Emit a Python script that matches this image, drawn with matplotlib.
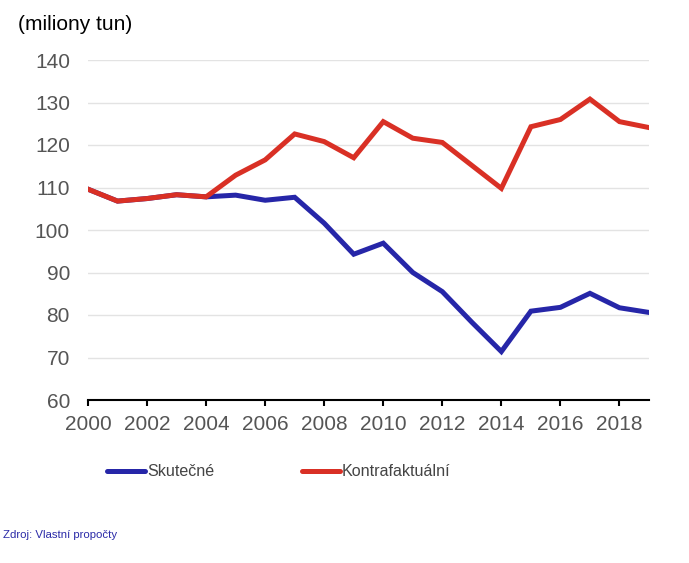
import numpy as np
import matplotlib.pyplot as plt

plt.rcParams['font.family'] = ['Liberation Sans', 'DejaVu Sans']

# data
years = list(range(2000, 2020))
skutecne = [109.6, 106.8, 107.4, 108.3, 107.8, 108.2, 107.0, 107.7, 101.6, 94.3,
            96.9, 90.0, 85.5, 78.3, 71.4, 80.9, 81.8, 85.1, 81.7, 80.6]
kontrafaktualni = [109.6, 106.8, 107.4, 108.3, 107.8, 112.9, 116.5, 122.6, 120.8, 117.0,
                   125.5, 121.6, 120.6, 115.2, 109.8, 124.3, 126.0, 130.8, 125.5, 124.1]
series_names = ["Skutečné", "Kontrafaktuální"]
y_ticks = [60, 70, 80, 90, 100, 110, 120, 130, 140]
x_ticks = list(range(2000, 2019, 2))

blue = "#2626a8"
red = "#d93025"

fig = plt.figure(figsize=(6.89, 5.63), dpi=100)
ax = fig.add_axes([88 / 689, 1 - 400 / 563, (649 - 88) / 689, 340 / 563])

ax.plot(years, skutecne, color=blue, lw=3.6, solid_joinstyle='miter', label=series_names[0], zorder=3)
ax.plot(years, kontrafaktualni, color=red, lw=3.6, solid_joinstyle='miter', label=series_names[1], zorder=4)

ax.set_xlim(2000, 2019)
ax.set_ylim(60, 140)
ax.set_yticks(y_ticks)
ax.set_xticks(x_ticks)
ax.grid(axis='y', color='#e3e3e3', lw=1)
ax.set_axisbelow(True)

for s in ['top', 'right', 'left']:
    ax.spines[s].set_visible(False)
ax.spines['bottom'].set_color('black')
ax.spines['bottom'].set_linewidth(1.5)
ax.spines['bottom'].set_zorder(5)

ax.tick_params(axis='y', length=0, pad=13, labelsize=15, labelcolor='#555555')
ax.tick_params(axis='x', length=4.5, width=1.5, color='black', pad=6.5, labelsize=15, labelcolor='#555555')

fig.text(18 / 689, 1 - 25 / 563, "(miliony tun)", fontsize=15, color='black', va='center', ha='left')

leg = fig.legend(loc='center left', bbox_to_anchor=(107 / 689, 1 - 472 / 563), ncol=2, frameon=False,
                 fontsize=11.6, handlelength=2.36, handletextpad=0.15,
                 columnspacing=5.4, borderpad=0, borderaxespad=0, labelcolor='#444444')
for h in leg.legend_handles:
    h.set_solid_capstyle('round')

fig.text(3 / 689, 1 - 535 / 563, "Zdroj: Vlastní propočty", fontsize=8.2,
         color='#2a2aa8', va='center', ha='left')

fig.savefig("out.png", dpi=100)
